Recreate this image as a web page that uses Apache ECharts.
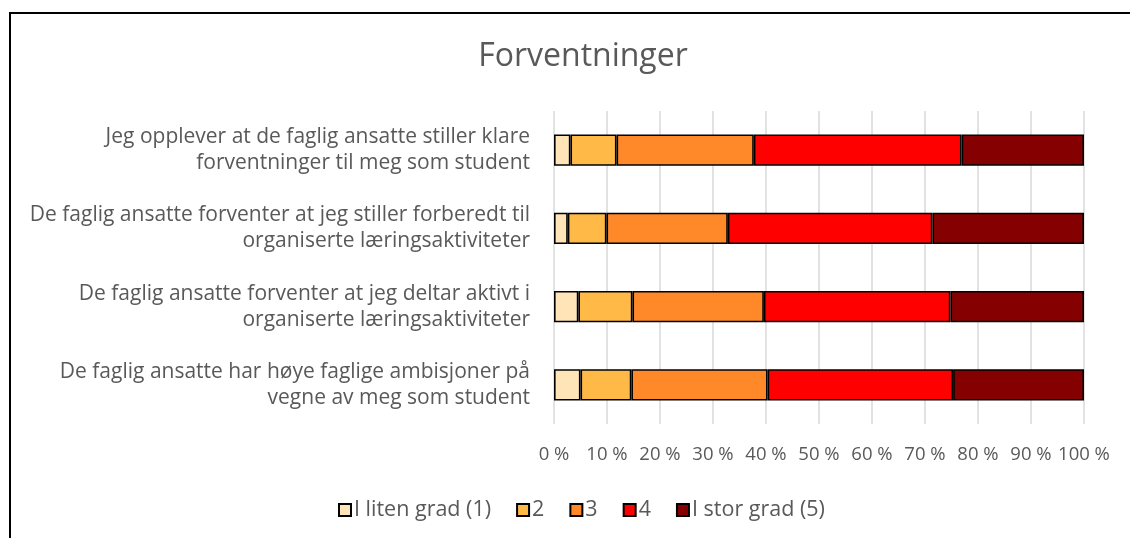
<!DOCTYPE html>
<html>
<head>
<meta charset="utf-8">
<script src="https://cdn.jsdelivr.net/npm/echarts@6/dist/echarts.min.js"></script>
<style>
html,body{margin:0;padding:0;background:#fff;}
#chart{width:1130px;height:538px;}
</style>
</head>
<body>
<div id="chart"></div>
<script>
const categories = [
  "Jeg opplever at de faglig ansatte stiller klare\nforventninger til meg som student",
  "De faglig ansatte forventer at jeg stiller forberedt til\norganiserte læringsaktiviteter",
  "De faglig ansatte forventer at jeg deltar aktivt i\norganiserte læringsaktiviteter",
  "De faglig ansatte har høye faglige ambisjoner på\nvegne av meg som student"
];
const seriesNames = ["I liten grad (1)", "2", "3", "4", "I stor grad (5)"];
const grad1 = [3.1, 2.6, 4.6, 5.0];
const grad2 = [8.7, 7.3, 10.2, 9.6];
const grad3 = [25.9, 22.9, 24.8, 25.7];
const grad4 = [39.2, 38.6, 35.2, 35.0];
const grad5 = [23.1, 28.6, 25.2, 24.7];
const colors = ["#FFE4B8", "#FFB946", "#FF8828", "#FF0000", "#850000"];

const FONT = "Open Sans";
const TXT = "#595959";
const allData = [grad1, grad2, grad3, grad4, grad5];

const chart = echarts.init(document.getElementById('chart'), null, {renderer: 'canvas'});
chart.setOption({
  animation: false,
  backgroundColor: '#fff',
  title: {
    text: 'Forventninger',
    left: 578, top: 36, textAlign: 'center',
    textStyle: {fontFamily: FONT, fontSize: 32, fontWeight: 'normal', color: TXT}
  },
  graphic: [{
    type: 'rect', silent: true, z: 100,
    shape: {x: 10, y: 13, width: 1200, height: 600},
    style: {fill: 'none', stroke: '#000', lineWidth: 2}
  }],
  legend: {
    bottom: 12, left: 333,
    itemWidth: 12, itemHeight: 12, itemGap: 25,
    icon: 'rect',
    textStyle: {fontFamily: FONT, fontSize: 21.5, color: TXT, padding: [0,0,0,-2]},
    data: seriesNames
  },
  grid: {left: 554, right: 46, top: 111, bottom: 114, containLabel: false},
  xAxis: {
    type: 'value', min: 0, max: 100, interval: 10,
    axisLine: {show: false}, axisTick: {show: false},
    splitLine: {show: true, lineStyle: {color: '#d9d9d9', width: 1.5}},
    axisLabel: {formatter: '{value} %', fontFamily: FONT, fontSize: 18.5, color: TXT, margin: 21}
  },
  yAxis: {
    type: 'category', inverse: true, data: categories,
    axisLine: {show: false}, axisTick: {show: false},
    axisLabel: {fontFamily: FONT, fontSize: 21, color: TXT, margin: 24, lineHeight: 26, align: 'right'}
  },
  series: seriesNames.map((n, i) => ({
    name: n, type: 'bar', stack: 'total',
    barWidth: '40%',
    data: allData[i],
    itemStyle: {color: colors[i], borderColor: '#000', borderWidth: 1.6}
  }))
});
</script>
</body>
</html>
